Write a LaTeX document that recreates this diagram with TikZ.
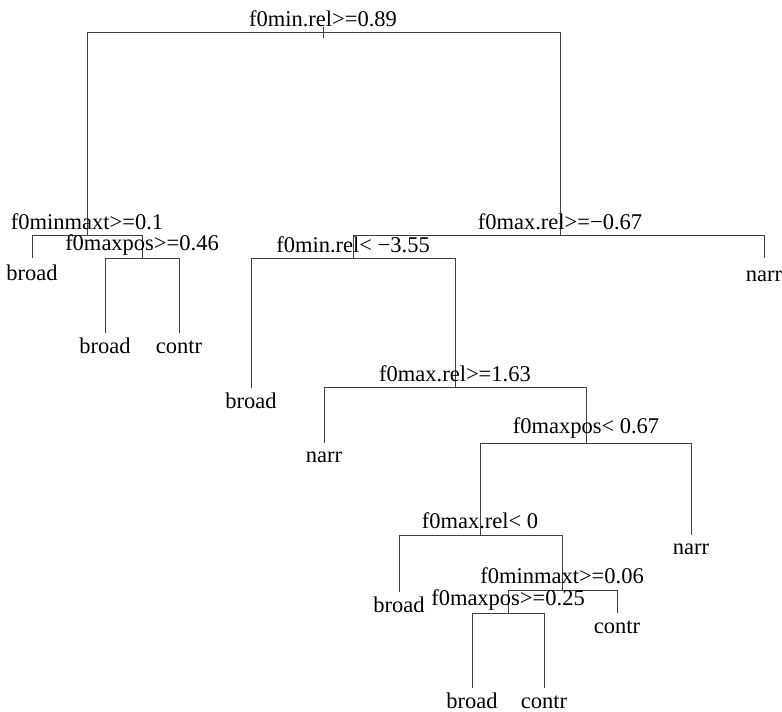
\documentclass[tikz,border=0pt]{standalone}
\usepackage{fontspec}
\setmainfont{Liberation Serif}
\begin{document}
\begin{tikzpicture}[x=1pt,y=-1pt,
  branch/.style={draw=black!75,line width=1pt},
  lbl/.style={anchor=base,inner sep=0pt,font=\fontsize{22.5}{26}\selectfont}]
\useasboundingbox (0,0) rectangle (782,712);
% split nodes
\coordinate (root) at (323,32);
\coordinate (A) at (87,235);
\coordinate (B) at (560,235);
\coordinate (A2) at (142,258);
\coordinate (C) at (353,258);
\coordinate (D) at (455,387);
\coordinate (E) at (586,443);
\coordinate (F) at (480,535);
\coordinate (G) at (562,590);
\coordinate (H) at (508,613);
% leaf ends
\coordinate (L1) at (32,258);
\coordinate (L2) at (105,333);
\coordinate (L3) at (179,333);
\coordinate (L4) at (764,258);
\coordinate (L5) at (251,388);
\coordinate (L6) at (324,443);
\coordinate (L7) at (691,535);
\coordinate (L8) at (399,592);
\coordinate (L9) at (617,613);
\coordinate (L10) at (472,688);
\coordinate (L11) at (544,688);
% branches
\draw[branch] ([yshift=-6pt]root) -- ([yshift=5pt]root);
\draw[branch] (A) -- (A |- root) -- (B |- root) -- (B);
\draw[branch] (L1) -- (L1 |- A) -- (A2 |- A) -- (A2);
\draw[branch] (L2) -- (L2 |- A2) -- (L3 |- A2) -- (L3);
\draw[branch] (C) -- (C |- B) -- (L4 |- B) -- (L4);
\draw[branch] (L5) -- (L5 |- C) -- (D |- C) -- (D);
\draw[branch] (L6) -- (L6 |- D) -- (E |- D) -- (E);
\draw[branch] (F) -- (F |- E) -- (L7 |- E) -- (L7);
\draw[branch] (L8) -- (L8 |- F) -- (G |- F) -- (G);
\draw[branch] (H) -- (H |- G) -- (L9 |- G) -- (L9);
\draw[branch] (L10) -- (L10 |- H) -- (L11 |- H) -- (L11);
% split labels
\node[lbl] (troot) at (323,26) {f0min.rel>=0.89};
\node[lbl] (tA) at (87,229) {f0minmaxt>=0.1};
\node[lbl] (tA2) at (142,250) {f0maxpos>=0.46};
\node[lbl] (tB) at (560,229) {f0max.rel>=−0.67};
\node[lbl] (tC) at (353,252) {f0min.rel< −3.55};
\node[lbl] (tD) at (455,381) {f0max.rel>=1.63};
\node[lbl] (tE) at (586,433) {f0maxpos< 0.67};
\node[lbl] (tF) at (480,528) {f0max.rel< 0};
\node[lbl] (tG) at (562,583) {f0minmaxt>=0.06};
\node[lbl] (tH) at (508,605) {f0maxpos>=0.25};
% leaf labels
\node[lbl] (t1) at (32,280) {broad};
\node[lbl] (t2) at (105,353) {broad};
\node[lbl] (t3) at (179,353) {contr};
\node[lbl] (t4) at (764,281) {narr};
\node[lbl] (t5) at (251,408) {broad};
\node[lbl] (t6) at (324,462) {narr};
\node[lbl] (t7) at (691,554) {narr};
\node[lbl] (t8) at (399,612) {broad};
\node[lbl] (t9) at (617,633) {contr};
\node[lbl] (t10) at (472,708) {broad};
\node[lbl] (t11) at (544,708) {contr};
\end{tikzpicture}
\end{document}
